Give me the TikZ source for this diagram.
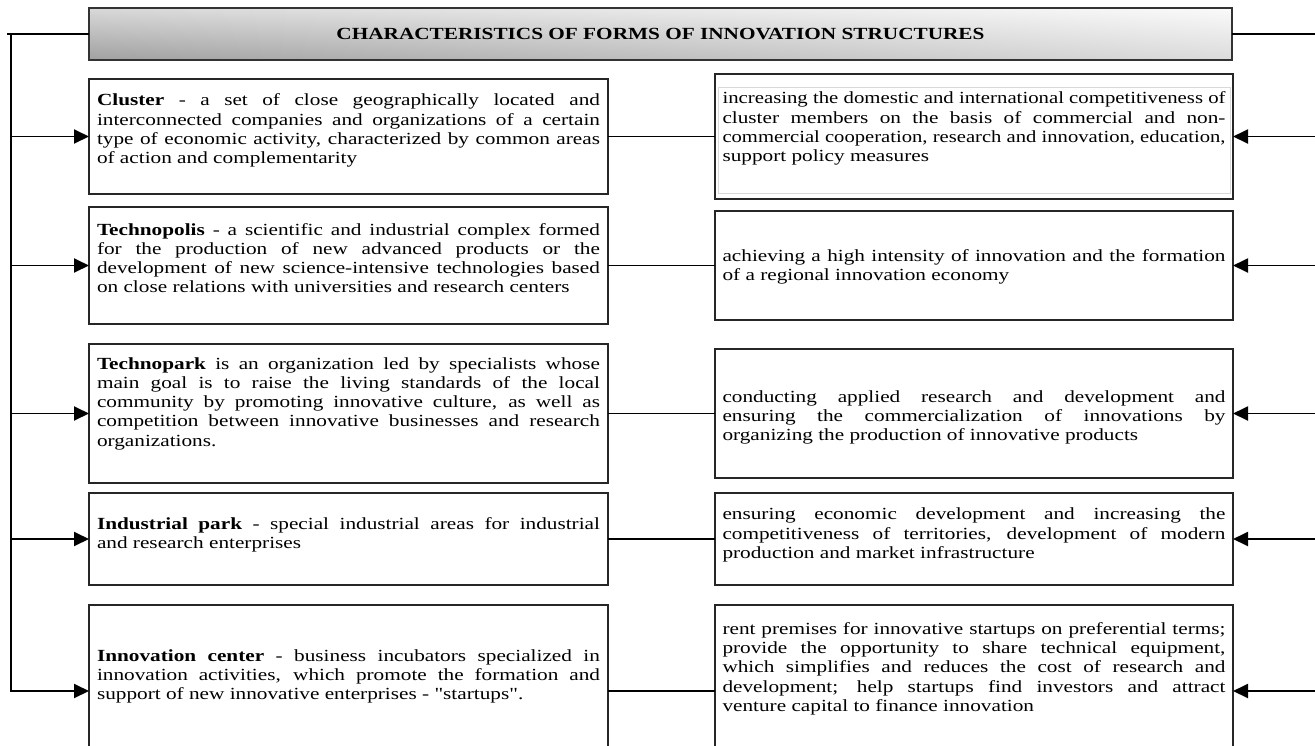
\documentclass[tikz,border=0pt]{standalone}
\usepackage{graphicx}
\usepackage{fontspec}
\setmainfont{Liberation Serif}[FakeStretch=1.25, Ligatures=TeXOff]
\usetikzlibrary{arrows.meta,shadings}
\newsavebox\lnbox
\newcommand\JL[1]{\sbox\lnbox{\strut #1}\ifdim\wd\lnbox>\linewidth
  \makebox[\linewidth][l]{\resizebox{\linewidth}{\height}{\usebox\lnbox}}\else
  \makebox[\linewidth][s]{\strut #1}\fi\\}
\begin{document}
\begin{tikzpicture}[x=1pt,y=-1pt,
  box/.style={draw=black!85, line width=1.2pt, rectangle, inner sep=0pt, outer sep=0pt, anchor=north west},
  lbox/.style={box, minimum width=519pt},
  rbox/.style={box, minimum width=518pt},
  txt/.style={inner sep=0pt, outer sep=0pt, text width=503pt, align=justify, anchor=north, font=\fontsize{17}{19.3}\selectfont},
  titlebox/.style={draw=black!80, line width=1.4pt, rectangle, inner sep=0pt, outer sep=0pt, anchor=north west,
     minimum width=1143pt, minimum height=52pt,
     upper left=black!15, lower left=black!37, upper right=black!2, lower right=black!14,
     font=\bfseries\fontsize{17}{20}\selectfont},
  conn/.style={line width=1.9pt},
  arr/.style={line width=1.9pt, -{Triangle[length=15pt,width=14pt]}},
  faint/.style={draw=black!15, line width=0.6pt},
]
\useasboundingbox (0,0) rectangle (1315,745);

% title
\node[titlebox] (T) at (89,8) {CHARACTERISTICS OF FORMS OF INNOVATION STRUCTURES};

% boxes
\node[lbox, minimum height=115pt] (L1) at (89,79) {};
\node[lbox, minimum height=117pt] (L2) at (89,207) {};
\node[lbox, minimum height=139pt] (L3) at (89,344) {};
\node[lbox, minimum height=92pt]  (L4) at (89,493) {};
\node[lbox, minimum height=172pt] (L5) at (89,605) {};

\node[rbox, minimum height=125pt] (R1) at (715,74) {};
\node[rbox, minimum height=109pt] (R2) at (715,211) {};
\node[rbox, minimum height=129pt] (R3) at (715,349) {};
\node[rbox, minimum height=92pt]  (R4) at (715,493) {};
\node[rbox, minimum height=172pt] (R5) at (715,605) {};

% faint inner frame of the first right box
\draw[faint] (718,87) rectangle (1230,193);

% texts
\node[txt] (tL1) at (348.5,92.2) {\JL{\textbf{Cluster} - a set of close geographically located and}\JL{interconnected companies and organizations of a certain}\JL{type of economic activity, characterized by common areas}\strut of action and complementarity};
\node[txt] (tL2) at (348.5,221.5) {\JL{\textbf{Technopolis} - a scientific and industrial complex formed}\JL{for the production of new advanced products or the}\JL{development of new science-intensive technologies based}\strut on close relations with universities and research centers};
\node[txt] (tL3) at (348.5,355.5) {\JL{\textbf{Technopark} is an organization led by specialists whose}\JL{main goal is to raise the living standards of the local}\JL{community by promoting innovative culture, as well as}\JL{competition between innovative businesses and research}\strut organizations.};
\node[txt] (tL4) at (348.5,516) {\JL{\textbf{Industrial park} - special industrial areas for industrial}\strut and research enterprises};
\node[txt] (tL5) at (348.5,647.5) {\JL{\textbf{Innovation center} - business incubators specialized in}\JL{innovation activities, which promote the formation and}\strut support of new innovative enterprises - "startups".};

\node[txt] (tR1) at (974,90.2) {\JL{increasing the domestic and international competitiveness of}\JL{cluster members on the basis of commercial and non-}\JL{commercial cooperation, research and innovation, education,}\strut support policy measures};
\node[txt] (tR2) at (974,247.5) {\JL{achieving a high intensity of innovation and the formation}\strut of a regional innovation economy};
\node[txt] (tR3) at (974,388.8) {\JL{conducting applied research and development and}\JL{ensuring the commercialization of innovations by}\strut organizing the production of innovative products};
\node[txt] (tR4) at (974,506.3) {\JL{ensuring economic development and increasing the}\JL{competitiveness of territories, development of modern}\strut production and market infrastructure};
\node[txt] (tR5) at (974,620.8) {\JL{rent premises for innovative startups on preferential terms;}\JL{provide the opportunity to share technical equipment,}\JL{which simplifies and reduces the cost of research and}\JL{development; help startups find investors and attract}\strut venture capital to finance innovation};

% connectors
\coordinate (lend) at (7,34);
\coordinate (vtop) at (11,34);
\coordinate (vbot) at (11,692);
\coordinate (redge) at (1316,34);

\draw[conn] (T.west) -- (lend);
\draw[conn] (vtop) -- (vbot);
\draw[conn] (T.east) -- (redge |- T.east);

\foreach \i in {1,...,5}{
  \draw[arr] (vtop |- L\i.west) -- (L\i.west);
  \draw[conn] (L\i.east) -- (R\i.west);
  \draw[arr] (redge |- R\i.east) -- (R\i.east);
}
\end{tikzpicture}
\end{document}
